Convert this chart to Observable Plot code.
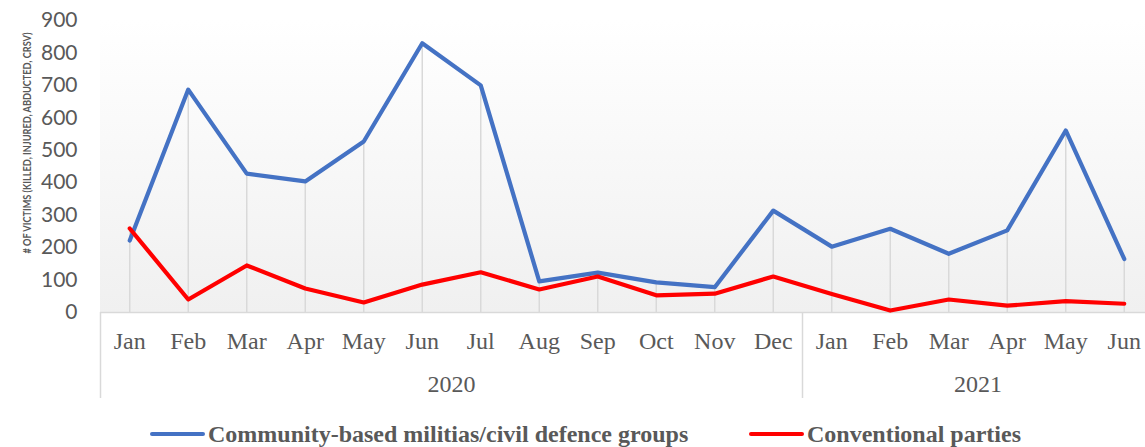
<!DOCTYPE html>
<html>
<head>
<meta charset="utf-8">
<script src="https://cdn.jsdelivr.net/npm/d3@7"></script>
<script src="https://cdn.jsdelivr.net/npm/@observablehq/plot@0.6"></script>
<style>
  html, body { margin: 0; padding: 0; background: #fff; overflow: hidden; width: 1145px; height: 447px; }
  #chart svg { display: block; max-width: none !important; }
  .legend { position: relative; height: 24px; margin-top: 12px; font-family: "Liberation Serif", "Times New Roman", serif; font-weight: bold; font-size: 24px; color: #595959; white-space: nowrap; }
  .item { position: absolute; top: 0; display: flex; align-items: center; height: 24px; line-height: 24px; }
  .swatch { width: 55px; height: 4px; border-radius: 2px; margin-right: 3px; }
</style>
</head>
<body>
<div id="chart"></div>
<div class="legend" id="legend"></div>
<script>
// Monthly victims by perpetrator type, Jan 2020 – Jun 2021
const months = ["Jan", "Feb", "Mar", "Apr", "May", "Jun", "Jul", "Aug", "Sep", "Oct", "Nov", "Dec",
                "Jan", "Feb", "Mar", "Apr", "May", "Jun"];
const years = ["2020", "2021"];
const monthsPerYear = [12, 6];
const community = [222, 687, 428, 404, 527, 830, 700, 96, 123, 93, 78, 314, 203, 258, 181, 253, 561, 165];
const conventional = [259, 40, 145, 74, 31, 86, 124, 71, 111, 53, 58, 111, 57, 6, 40, 21, 35, 27];
const yTicks = [0, 100, 200, 300, 400, 500, 600, 700, 800, 900];
const seriesNames = ["Community-based militias/civil defence groups", "Conventional parties"];
const seriesColors = ["#4472c4", "#ff0000"];
const yTitle = "# OF VICTIMS (KILLED, INJURED, ABDUCTED, CRSV)";

const rows = months.map((month, i) => ({
  i, month, community: community[i], conventional: conventional[i]
}));

// Year groups: span of month indices for each year
let start = 0;
const yearRows = years.map((year, k) => {
  const first = start, last = start + monthsPerYear[k] - 1;
  start += monthsPerYear[k];
  return { year, first, last, mid: (first + last) / 2, edge: first - 0.5 };
});

const xDomain = [-0.5, months.length - 0.5];
const yDomain = [0, yTicks[yTicks.length - 1]];

const chart = Plot.plot({
  width: 1153,
  height: 410,
  marginLeft: 100,
  marginRight: 0,
  marginTop: 20,
  marginBottom: 12,
  style: { background: "transparent" },
  x: { type: "linear", domain: xDomain, axis: null },
  y: { domain: yDomain, range: [312, 20], axis: null, label: null },
  marks: [
    // plot area with a soft vertical gradient
    Plot.rect([0], {
      x1: () => xDomain[0], x2: () => xDomain[1],
      y1: () => yDomain[0], y2: () => yDomain[1],
      fill: "url(#plotBg)"
    }),
    // drop lines from the higher series down to the axis
    Plot.ruleX(rows, {
      x: "i", y1: () => 0, y2: d => Math.max(d.community, d.conventional),
      stroke: "#d9d9d9", strokeWidth: 1.5
    }),
    // category axis baseline
    Plot.ruleY([0], { stroke: "#d9d9d9", strokeWidth: 1.5 }),
    // year group separators in the label band below the axis
    Plot.ruleX(yearRows, { x: "edge", insetTop: 292, stroke: "#d9d9d9", strokeWidth: 1.5 }),
    Plot.axisY(yTicks, {
      tickSize: 0, tickPadding: 23, label: null,
      fontSize: 21, fontFamily: "Lato, 'Open Sans', sans-serif", fill: "#595959"
    }),
    Plot.text([yTitle], {
      frameAnchor: "top-left", rotate: -90, textAnchor: "end",
      dx: -77, dy: 12, fontSize: 11, fontWeight: "bold",
      fontFamily: "Lato, 'Open Sans', sans-serif", fill: "#595959"
    }),
    Plot.line(rows, {
      x: "i", y: "community", stroke: seriesColors[0], strokeWidth: 4.2,
      strokeLinejoin: "round", strokeLinecap: "round"
    }),
    Plot.line(rows, {
      x: "i", y: "conventional", stroke: seriesColors[1], strokeWidth: 4.2,
      strokeLinejoin: "round", strokeLinecap: "round"
    }),
    // month labels
    Plot.text(rows, {
      x: "i", y: () => 0, text: "month", dy: 29,
      fontSize: 24, fontFamily: "'Liberation Serif', 'Times New Roman', serif", fill: "#595959"
    }),
    // year labels centred under each group
    Plot.text(yearRows, {
      x: "mid", y: () => 0, text: "year", dy: 72,
      fontSize: 24, fontFamily: "'Liberation Serif', 'Times New Roman', serif", fill: "#595959"
    })
  ]
});

// gradient used by the plot area
const defs = d3.select(chart).insert("defs", ":first-child");
const grad = defs.append("linearGradient").attr("id", "plotBg")
  .attr("x1", 0).attr("y1", 0).attr("x2", 0).attr("y2", 1);
grad.append("stop").attr("offset", 0).attr("stop-color", "#ffffff");
grad.append("stop").attr("offset", 1).attr("stop-color", "#f0f0f0");

// fit the narrow axis title to its length
d3.select(chart).selectAll("text")
  .filter(function () { return this.textContent === yTitle; })
  .attr("textLength", 221).attr("lengthAdjust", "spacingAndGlyphs");

document.getElementById("chart").appendChild(chart);

// legend
const legendLeft = [150, 749];
const legend = d3.select("#legend");
seriesNames.forEach((name, k) => {
  const item = legend.append("div").attr("class", "item").style("left", legendLeft[k] + "px");
  item.append("div").attr("class", "swatch").style("background", seriesColors[k]);
  item.append("span").text(name);
});
</script>
</body>
</html>
